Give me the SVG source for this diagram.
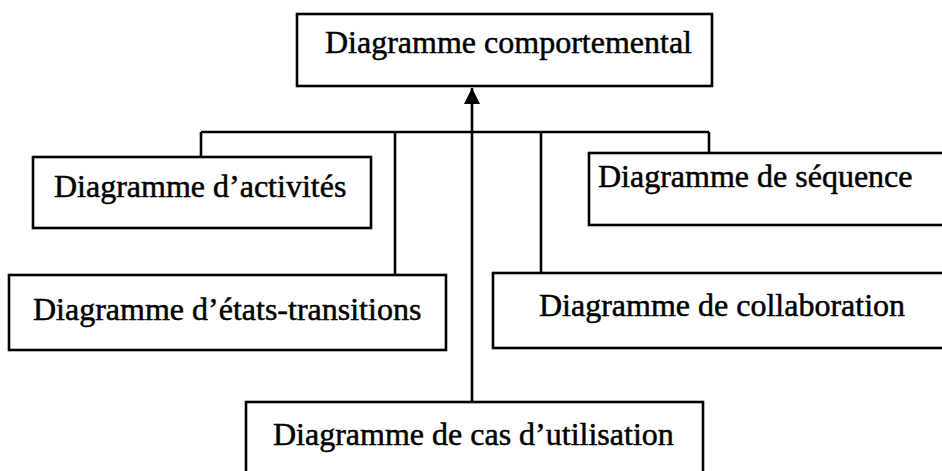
<svg xmlns="http://www.w3.org/2000/svg" width="942" height="471" viewBox="0 0 942 471">
  <style>
    .box { fill: #ffffff; stroke: #000000; stroke-width: 2.6; }
    .lbl { font-family: "Liberation Serif", "Times New Roman", serif; font-size: 32px; fill: #000000; stroke: #000000; stroke-width: 0.5; }
    .wire { fill: none; stroke: #000000; stroke-width: 2.6; }
  </style>
  <defs>
    <marker id="head" markerUnits="userSpaceOnUse" markerWidth="18" markerHeight="18" refX="16" refY="8" orient="auto">
      <path d="M0,0 L16,8 L0,16 Z" fill="#000000"/>
    </marker>
  </defs>
  <rect width="942" height="471" fill="#ffffff"/>

  <!-- connectors: horizontal bus with drops to each child, plus the generalisation arrow -->
  <g id="connectors">
    <path class="wire" d="M201,132 H709"/>
    <path class="wire" d="M201,132 V157"/>
    <path class="wire" d="M395,132 V275"/>
    <path class="wire" d="M541,132 V273"/>
    <path class="wire" d="M709,132 V153"/>
    <path class="wire" d="M472,402 V88" marker-end="url(#head)"/>
  </g>

  <g id="comportemental">
    <rect class="box" x="297" y="14" width="415" height="72"/>
    <text class="lbl" x="325" y="53">Diagramme comportemental</text>
  </g>

  <g id="activites">
    <rect class="box" x="33" y="157" width="338" height="71"/>
    <text class="lbl" x="54" y="197">Diagramme d’activités</text>
  </g>

  <g id="sequence">
    <rect class="box" x="589" y="153" width="360" height="72"/>
    <text class="lbl" x="598" y="187">Diagramme de séquence</text>
  </g>

  <g id="etats-transitions">
    <rect class="box" x="9" y="275" width="437" height="75"/>
    <text class="lbl" x="33" y="320">Diagramme d’états-transitions</text>
  </g>

  <g id="collaboration">
    <rect class="box" x="493" y="273" width="460" height="75"/>
    <text class="lbl" x="539" y="316">Diagramme de collaboration</text>
  </g>

  <g id="cas-utilisation">
    <rect class="box" x="246" y="402" width="457" height="80"/>
    <text class="lbl" x="273" y="445">Diagramme de cas d’utilisation</text>
  </g>
</svg>
